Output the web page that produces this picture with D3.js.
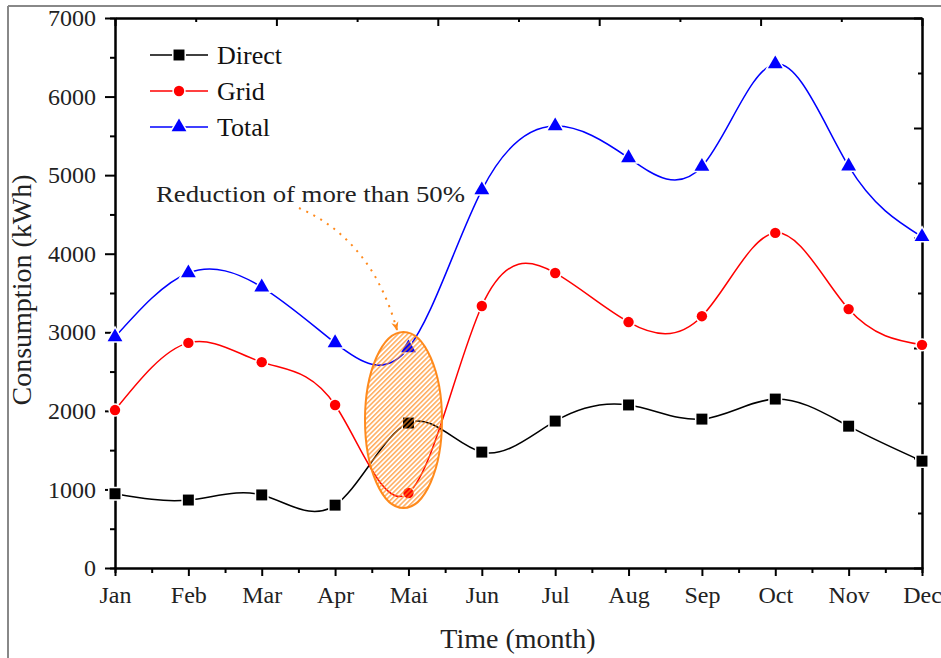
<!DOCTYPE html>
<html>
<head>
<meta charset="utf-8">
<script src="https://cdn.jsdelivr.net/npm/d3@7"></script>
<style>
  body { margin: 0; background: #fff; }
  svg text { font-family: "Liberation Serif", "Times New Roman", serif; }
</style>
</head>
<body>
<svg id="chart" width="941" height="658"></svg>
<script>
// Monthly energy consumption (kWh)
const months = ["Jan", "Feb", "Mar", "Apr", "Mai", "Jun", "Jul", "Aug", "Sep", "Oct", "Nov", "Dec"];
const direct = [945, 865, 930, 800, 1845, 1475, 1870, 2075, 1895, 2150, 1805, 1360];
const grid   = [2010, 2865, 2620, 2075, 955, 3335, 3755, 3130, 3205, 4265, 3295, 2840];
const total  = [2940, 3755, 3575, 2865, 2800, 4810, 5625, 5220, 5110, 6415, 5115, 4215];
const seriesNames = ["Direct", "Grid", "Total"];
const yTicks = [0, 1000, 2000, 3000, 4000, 5000, 6000, 7000];
const yMinorTicks = [500, 1500, 2500, 3500, 4500, 5500, 6500];
const annotation = "Reduction of more than 50%";
const xTitle = "Time (month)";
const yTitle = "Consumption (kWh)";

const svg = d3.select("#chart");
const plotLeft = 115, plotRight = 922, plotTop = 18, plotBottom = 568;

const x = d3.scalePoint().domain(months).range([plotLeft, plotRight]).padding(0);
const y = d3.scaleLinear().domain([0, 7000]).range([plotBottom, plotTop]);
const xMinor = d3.scaleLinear().domain([0, 11]).range([plotLeft, plotRight]);
const topScale = d3.scaleLinear().domain([0, 10]).range([plotLeft, plotRight]);
const rightScale = d3.scaleLinear().domain([0, 10]).range([plotBottom, plotTop]);

// outer frame
svg.append("line").attr("x1", 8).attr("y1", 6).attr("x2", 941).attr("y2", 6)
  .attr("stroke", "#888").attr("stroke-width", 2);
svg.append("line").attr("x1", 8).attr("y1", 6).attr("x2", 8).attr("y2", 658)
  .attr("stroke", "#888").attr("stroke-width", 2);

// hatch pattern for the highlighted region
const defs = svg.append("defs");
const pat = defs.append("pattern").attr("id", "hatch")
  .attr("patternUnits", "userSpaceOnUse").attr("width", 3.4).attr("height", 3.4)
  .attr("patternTransform", "rotate(45)");
pat.append("line").attr("x1", 0.8).attr("y1", 0).attr("x2", 0.8).attr("y2", 3.4)
  .attr("stroke", "#ff8a1c").attr("stroke-width", 1.1);
defs.append("marker").attr("id", "arrowHead")
  .attr("viewBox", "0 0 10 10").attr("refX", 9).attr("refY", 5)
  .attr("markerWidth", 12).attr("markerHeight", 9).attr("markerUnits", "userSpaceOnUse")
  .attr("orient", "auto")
  .append("path").attr("d", "M0,1 L10,5 L0,9 L3,5 Z").attr("fill", "#ff8a1c");

function styleAxis(g) {
  g.selectAll(".domain").attr("stroke", "#000").attr("stroke-width", 2);
  g.selectAll(".tick line").attr("stroke", "#000").attr("stroke-width", 2);
}

// minor ticks
svg.append("g").attr("transform", `translate(0,${plotBottom})`)
  .call(d3.axisBottom(xMinor).tickValues(d3.range(0.5, 11, 1)).tickSize(5).tickFormat(""))
  .call(styleAxis);
svg.append("g").attr("transform", `translate(${plotLeft},0)`)
  .call(d3.axisLeft(y).tickValues(yMinorTicks).tickSize(5).tickFormat(""))
  .call(styleAxis);

// top and right axes (inward ticks)
svg.append("g").attr("transform", `translate(0,${plotTop})`)
  .call(d3.axisTop(topScale).tickValues([0, 2, 4, 6, 8, 10]).tickSize(-8).tickSizeOuter(0).tickFormat(""))
  .call(styleAxis);
svg.append("g").attr("transform", `translate(0,${plotTop})`)
  .call(d3.axisTop(topScale).tickValues([1, 3, 5, 7, 9]).tickSize(-4).tickSizeOuter(0).tickFormat(""))
  .call(styleAxis);
svg.append("g").attr("transform", `translate(${plotRight},0)`)
  .call(d3.axisRight(rightScale).tickValues([0, 2, 4, 6, 8, 10]).tickSize(-8).tickSizeOuter(0).tickFormat(""))
  .call(styleAxis);
svg.append("g").attr("transform", `translate(${plotRight},0)`)
  .call(d3.axisRight(rightScale).tickValues([1, 3, 5, 7, 9]).tickSize(-4).tickSizeOuter(0).tickFormat(""))
  .call(styleAxis);

// main axes
const xAxis = svg.append("g").attr("transform", `translate(0,${plotBottom})`)
  .call(d3.axisBottom(x).tickSize(8).tickSizeOuter(0).tickPadding(10))
  .call(styleAxis);
xAxis.selectAll("text").attr("font-size", 24).attr("fill", "#222")
  .style("font-family", '"Liberation Serif", serif');

const yAxis = svg.append("g").attr("transform", `translate(${plotLeft},0)`)
  .call(d3.axisLeft(y).tickValues(yTicks).tickSize(10).tickSizeOuter(0).tickPadding(9).tickFormat(d3.format("d")))
  .call(styleAxis);
yAxis.selectAll("text").attr("font-size", 24).attr("fill", "#222")
  .style("font-family", '"Liberation Serif", serif');

// axis titles
svg.append("text").attr("x", 518).attr("y", 648).attr("text-anchor", "middle")
  .attr("font-size", 28).attr("fill", "#222").text(xTitle);
svg.append("text").attr("transform", "translate(31,290) rotate(-90)").attr("text-anchor", "middle")
  .attr("font-size", 28).attr("fill", "#222").text(yTitle);

// series
const series = [
  { name: seriesNames[0], values: direct, color: "#000000", symbol: d3.symbolSquare, size: 120 },
  { name: seriesNames[1], values: grid,   color: "#ff0000", symbol: d3.symbolCircle, size: 85 },
  { name: seriesNames[2], values: total,  color: "#0000ff", symbol: d3.symbolTriangle, size: 95 }
];

const line = d3.line().x((d, i) => x(months[i])).y(d => y(d)).curve(d3.curveNatural);

const plot = svg.append("g");
series.forEach(s => {
  plot.append("path").datum(s.values).attr("d", line)
    .attr("fill", "none").attr("stroke", s.color).attr("stroke-width", 1.5);
});
series.forEach(s => {
  plot.selectAll(null).data(s.values).join("path")
    .attr("transform", (d, i) => `translate(${x(months[i])},${y(d)})`)
    .attr("d", d3.symbol().type(s.symbol).size(s.size))
    .attr("fill", s.color).attr("stroke", "#fff").attr("stroke-width", 3)
    .attr("paint-order", "stroke");
});

// legend
const legend = svg.append("g");
series.forEach((s, i) => {
  const ly = 55 + i * 36;
  legend.append("line").attr("x1", 150).attr("x2", 208).attr("y1", ly).attr("y2", ly)
    .attr("stroke", s.color).attr("stroke-width", 1.5);
  legend.append("path").attr("transform", `translate(179,${ly})`)
    .attr("d", d3.symbol().type(s.symbol).size(s.size)).attr("fill", s.color)
    .attr("stroke", "#fff").attr("stroke-width", 3).attr("paint-order", "stroke");
  legend.append("text").attr("x", 217).attr("y", ly + 9).attr("font-size", 26)
    .attr("fill", "#111").text(s.name);
});

// highlighted May drop
svg.append("text").attr("x", 156).attr("y", 202).attr("font-size", 24)
  .attr("textLength", 309).attr("lengthAdjust", "spacingAndGlyphs")
  .attr("fill", "#222").text(annotation);
svg.append("path").attr("d", "M299,208 Q372,240 397,330")
  .attr("fill", "none").attr("stroke", "#ff8a1c").attr("stroke-width", 2)
  .attr("stroke-dasharray", "2,6").attr("marker-end", "url(#arrowHead)");
svg.append("ellipse").attr("cx", 403.5).attr("cy", 420).attr("rx", 38.5).attr("ry", 88)
  .attr("fill", "url(#hatch)").attr("stroke", "#ff8a1c").attr("stroke-width", 2);
</script>
</body>
</html>
